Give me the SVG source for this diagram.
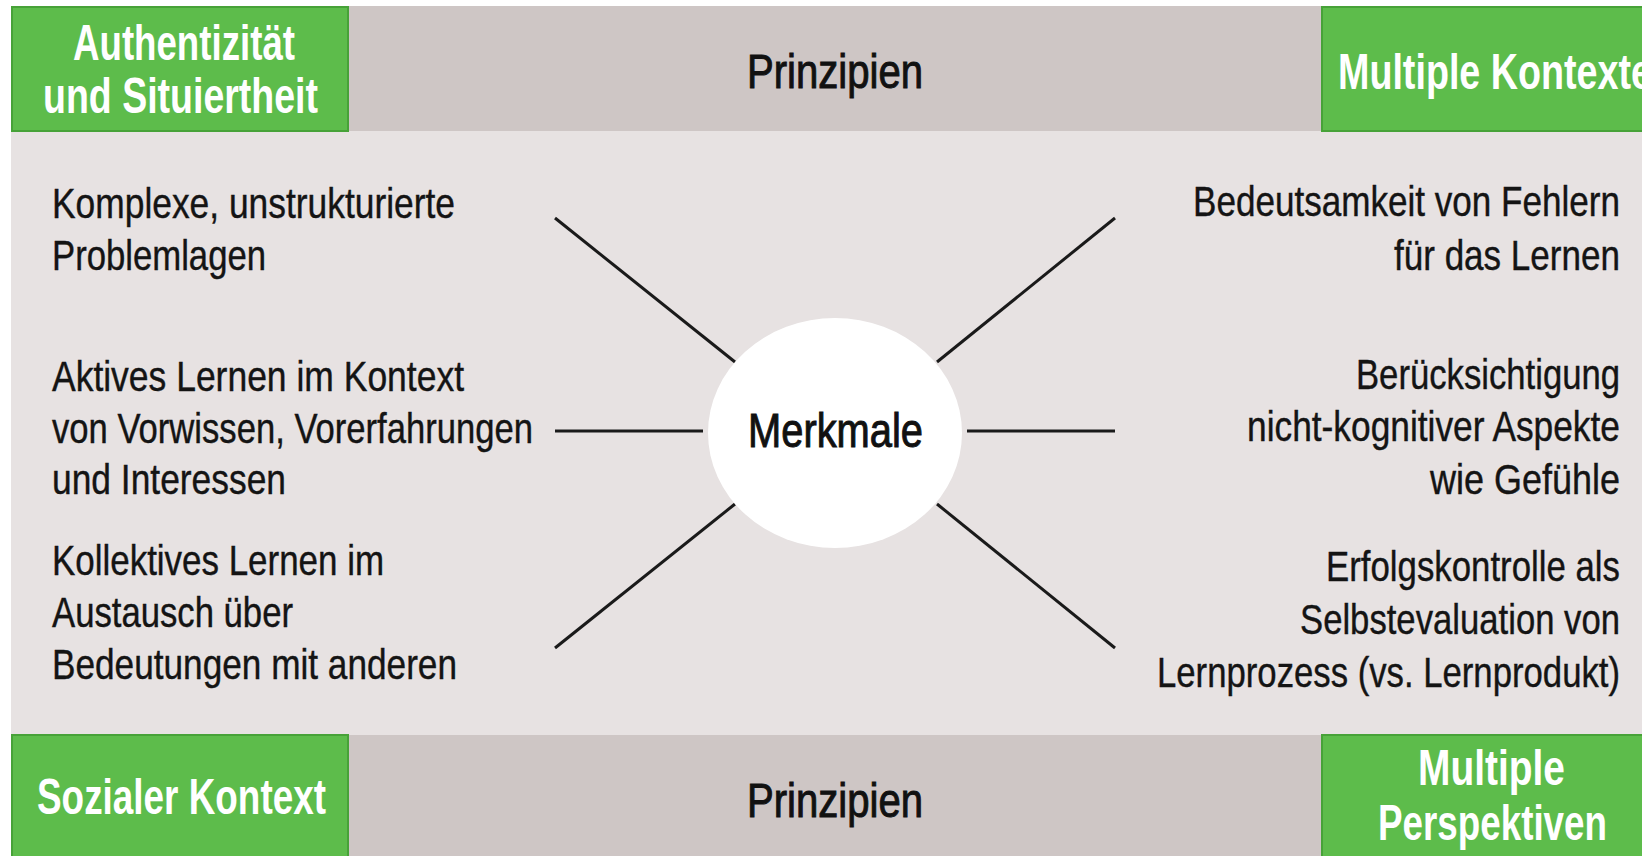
<svg xmlns="http://www.w3.org/2000/svg" width="1642" height="856" viewBox="0 0 1642 856">
<style>
.bg{fill:#e7e2e2}
.band{fill:#cec6c5}
.green{fill:#5dbc4b;stroke:#47a238;stroke-width:2}
.lbl{font-family:"Liberation Sans",Arial,sans-serif;font-weight:bold;font-size:50px;fill:#ffffff}
.head{font-family:"Liberation Sans",Arial,sans-serif;font-size:48px;fill:#111111;stroke:#111111;stroke-width:1;text-anchor:middle}
.body{font-family:"Liberation Sans",Arial,sans-serif;font-size:42px;fill:#141414;stroke:#141414;stroke-width:0.4}
.r{text-anchor:end}
.c{text-anchor:middle}
.conn line{stroke:#1a1a1a;stroke-width:3}
</style>
<rect x="0" y="0" width="1642" height="856" fill="#ffffff"/>
<rect class="bg" x="11" y="131" width="1631" height="604"/>
<g id="band-top">
<rect class="band" x="11" y="6" width="1631" height="125"/>
<text class="head" x="835" y="88" textLength="176" lengthAdjust="spacingAndGlyphs">Prinzipien</text>
</g>
<g id="band-bottom">
<rect class="band" x="11" y="735" width="1631" height="121"/>
<text class="head" x="835" y="817" textLength="176" lengthAdjust="spacingAndGlyphs">Prinzipien</text>
</g>
<g id="node-authentizitaet">
<rect class="green" x="12" y="7" width="336" height="124"/>
<text class="lbl c" x="184" y="60" textLength="222" lengthAdjust="spacingAndGlyphs">Authentizität</text>
<text class="lbl c" x="180.5" y="113" textLength="275" lengthAdjust="spacingAndGlyphs">und Situiertheit</text>
</g>
<g id="node-multiple-kontexte">
<rect class="green" x="1322" y="7" width="330" height="124"/>
<text class="lbl c" x="1495" y="89" textLength="314" lengthAdjust="spacingAndGlyphs">Multiple Kontexte</text>
</g>
<g id="node-sozialer-kontext">
<rect class="green" x="12" y="735" width="336" height="130"/>
<text class="lbl c" x="181.5" y="814" textLength="289" lengthAdjust="spacingAndGlyphs">Sozialer Kontext</text>
</g>
<g id="node-multiple-perspektiven">
<rect class="green" x="1322" y="735" width="330" height="130"/>
<text class="lbl c" x="1491.5" y="785" textLength="147" lengthAdjust="spacingAndGlyphs">Multiple</text>
<text class="lbl c" x="1492.5" y="840" textLength="229" lengthAdjust="spacingAndGlyphs">Perspektiven</text>
</g>
<g id="connectors" class="conn">
<line x1="555" y1="218" x2="735" y2="362"/>
<line x1="555" y1="431" x2="703" y2="431"/>
<line x1="555" y1="648" x2="735" y2="504"/>
<line x1="1115" y1="218" x2="937" y2="362"/>
<line x1="967" y1="431" x2="1115" y2="431"/>
<line x1="1115" y1="648" x2="937" y2="504"/>
</g>
<g id="node-merkmale">
<ellipse cx="835" cy="433" rx="127" ry="115" fill="#ffffff"/>
<text class="head" x="835.5" y="447" textLength="175" lengthAdjust="spacingAndGlyphs">Merkmale</text>
</g>
<g id="node-komplexe">
<text class="body" x="52" y="218" textLength="403" lengthAdjust="spacingAndGlyphs">Komplexe, unstrukturierte</text>
<text class="body" x="52" y="270" textLength="214" lengthAdjust="spacingAndGlyphs">Problemlagen</text>
</g>
<g id="node-aktives">
<text class="body" x="52" y="391" textLength="412" lengthAdjust="spacingAndGlyphs">Aktives Lernen im Kontext</text>
<text class="body" x="52" y="443" textLength="481" lengthAdjust="spacingAndGlyphs">von Vorwissen, Vorerfahrungen</text>
<text class="body" x="52" y="494" textLength="234" lengthAdjust="spacingAndGlyphs">und Interessen</text>
</g>
<g id="node-kollektives">
<text class="body" x="52" y="575" textLength="332" lengthAdjust="spacingAndGlyphs">Kollektives Lernen im</text>
<text class="body" x="52" y="627" textLength="241" lengthAdjust="spacingAndGlyphs">Austausch über</text>
<text class="body" x="52" y="679" textLength="405" lengthAdjust="spacingAndGlyphs">Bedeutungen mit anderen</text>
</g>
<g id="node-fehler">
<text class="body r" x="1620" y="216" textLength="427" lengthAdjust="spacingAndGlyphs">Bedeutsamkeit von Fehlern</text>
<text class="body r" x="1620" y="270" textLength="226" lengthAdjust="spacingAndGlyphs">für das Lernen</text>
</g>
<g id="node-gefuehle">
<text class="body r" x="1620" y="389" textLength="264" lengthAdjust="spacingAndGlyphs">Berücksichtigung</text>
<text class="body r" x="1620" y="441" textLength="373" lengthAdjust="spacingAndGlyphs">nicht-kognitiver Aspekte</text>
<text class="body r" x="1620" y="494" textLength="190" lengthAdjust="spacingAndGlyphs">wie Gefühle</text>
</g>
<g id="node-erfolgskontrolle">
<text class="body r" x="1620" y="581" textLength="294" lengthAdjust="spacingAndGlyphs">Erfolgskontrolle als</text>
<text class="body r" x="1620" y="634" textLength="320" lengthAdjust="spacingAndGlyphs">Selbstevaluation von</text>
<text class="body r" x="1620" y="687" textLength="463" lengthAdjust="spacingAndGlyphs">Lernprozess (vs. Lernprodukt)</text>
</g>
</svg>
